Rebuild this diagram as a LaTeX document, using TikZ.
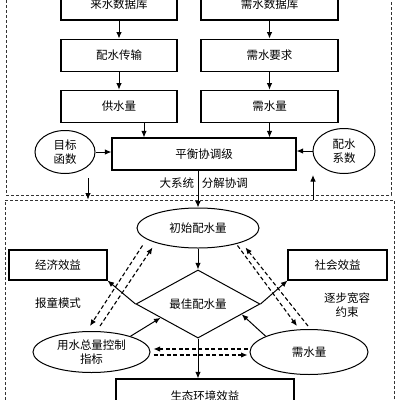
\documentclass[tikz,border=0pt]{standalone}
\usepackage{fontspec}
\newfontfamily\cjk{Noto Sans CJK SC}
\usetikzlibrary{shapes, arrows.meta, positioning, calc}

\begin{document}
\begin{tikzpicture}[x=1pt, y=-1pt, >={Latex[length=6.5pt, width=5.5pt]}, font=\cjk\fontsize{11.5}{14}\selectfont,
  box/.style={draw, rectangle, line width=1.1pt, minimum height=32pt, inner sep=0pt},
  oval/.style={draw, ellipse, line width=1pt, inner sep=0pt, align=center},
  frame/.style={draw=black!80, rectangle, line width=0.8pt, dash pattern=on 3pt off 2pt, inner sep=0pt},
  flow/.style={->, line width=1pt},
  dflow/.style={->, line width=1.1pt, dash pattern=on 4pt off 2.5pt}]
  \useasboundingbox (0,0) rectangle (400,400);
  \clip (0,0) rectangle (400,400);

  % Frames
  \node[frame, minimum width=385pt, minimum height=215pt] (shangceng) at (198.5,87.5) {};
  \node[frame, minimum width=389pt, minimum height=220pt] (xiaceng) at (199.5,310) {};

  % Upper level
  \node[box, minimum width=116pt] (laishui) at (119,4) {来水数据库};
  \node[box, minimum width=116pt, below=18pt of laishui] (chuanshu) {配水传输};
  \node[box, minimum width=116pt, below=18pt of chuanshu] (gongshui) {供水量};
  \node[box, minimum width=137pt] (xushuiku) at (269.5,4) {需水数据库};
  \node[box, minimum width=137pt, below=18pt of xushuiku] (yaoqiu) {需水要求};
  \node[box, minimum width=137pt, below=18pt of yaoqiu] (xushui) {需水量};
  \node[box, minimum width=184pt] (pingheng) at (204,154) {平衡协调级};
  \node[oval, minimum width=60pt, minimum height=43pt] (mubiao) at (65,152) {目标\\函数};
  \node[oval, minimum width=62pt, minimum height=45pt] (xishu) at (344,151) {配水\\系数};

  \draw[flow] (laishui) -- (chuanshu);
  \draw[flow] (chuanshu) -- (gongshui);
  \draw[flow] (xushuiku) -- (yaoqiu);
  \draw[flow] (yaoqiu) -- (xushui);
  \draw[flow] ([xshift=25pt]gongshui.south) -- ([xshift=25pt]gongshui.south |- pingheng.north);
  \draw[flow] (xushui.south) -- (xushui.south |- pingheng.north);
  \draw[flow] (mubiao.east) -- (mubiao.east -| pingheng.west);
  \draw[flow] (xishu.west) -- (xishu.west -| pingheng.east);

  % Between levels
  \coordinate (xiaxing) at (88,178);
  \coordinate (fankui) at (313,175);
  \draw[flow] (xiaxing) -- (xiaxing |- xiaceng.north);
  \draw[flow] (fankui |- xiaceng.north) -- (fankui);

  % Lower level
  \node[oval, minimum width=122pt, minimum height=40pt] (chushi) at (198,228) {初始配水量};
  \node[draw, diamond, line width=1pt, inner sep=0pt, minimum width=124pt, minimum height=68pt] (zuijia) at (198,304) {最佳配水量};
  \node[box, minimum width=98pt, minimum height=30pt] (jingji) at (58,265) {经济效益};
  \node[box, minimum width=99pt, minimum height=30pt] (shehui) at (337.5,265) {社会效益};
  \node[oval, minimum width=117pt, minimum height=41pt] (yongshui) at (91.5,352) {用水总量控制\\指标};
  \node[oval, minimum width=118pt, minimum height=45pt] (xushui2) at (309,352) {需水量};
  \node[box, minimum width=178pt, minimum height=34pt] (shengtai) at (205,396) {生态环境效益};
  \node (baotong) at (58,303) {报童模式};
  \node[align=center] (kuanrong) at (347,305) {逐步宽容\\约束};

  \draw[flow] (pingheng.south -| chushi.north) -- node[left, pos=0.35]{大系统} node[right, pos=0.35]{分解协调} (chushi.north);
  \draw[flow] (chushi.south) -- (zuijia.north);
  \draw[flow] (zuijia.south) -- (zuijia.south |- shengtai.north);
  \draw[flow] (zuijia.west) -- (jingji.south east);
  \draw[flow] (zuijia.east) -- (shehui.south west);
  \draw[flow] (yongshui.22) -- ($(zuijia.west)!0.4!(zuijia.south)$);
  \draw[flow] (xushui2.160) -- ($(zuijia.south)!0.7!(zuijia.east)$);

  % Dashed feedback
  \draw[dflow] ([xshift=-12pt,yshift=-3pt]chushi.south west) -- ([xshift=-1.5pt,yshift=5pt]yongshui.north);
  \draw[dflow] ([xshift=8.5pt,yshift=5pt]yongshui.north) -- ([xshift=-2pt,yshift=-5pt]chushi.south west);
  \draw[dflow] ([xshift=-4pt,yshift=-3pt]chushi.south east) -- ([xshift=-12pt,yshift=3pt]xushui2.north);
  \draw[dflow] ([xshift=-1pt,yshift=3pt]xushui2.north) -- ([xshift=4pt,yshift=-5pt]chushi.south east);
  \draw[dflow] ([xshift=-2pt,yshift=3pt]xushui2.west) -- ([xshift=3pt,yshift=3pt]yongshui.east);
  \draw[dflow] ([xshift=3pt,yshift=-3pt]yongshui.east) -- ([xshift=-2pt,yshift=-3pt]xushui2.west);
\end{tikzpicture}
\end{document}
